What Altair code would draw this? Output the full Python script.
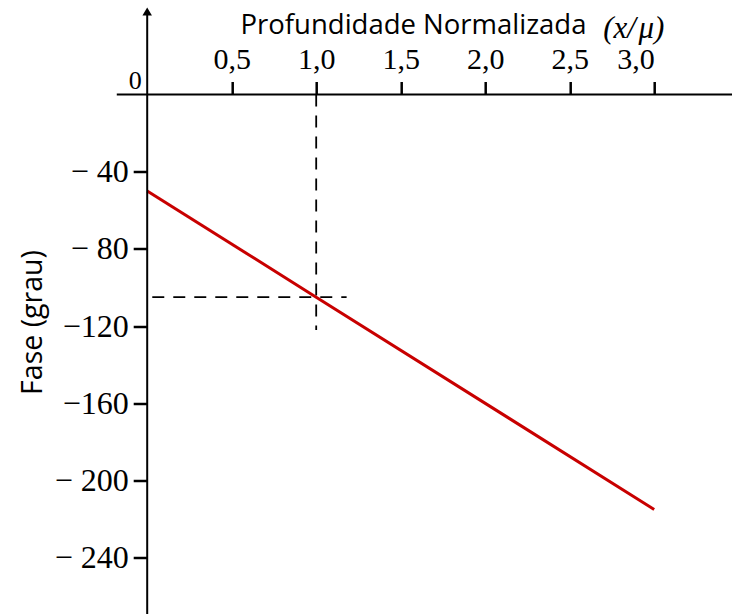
import altair as alt
import pandas as pd

# Phase of the thermal wave against normalized depth
depth = [0.0, 1.0, 3.0]
phase = [-50.0, -105.0, -215.0]

# Axis ticks
x_ticks = [0.5, 1.0, 1.5, 2.0, 2.5, 3.0]
y_ticks = [-40, -80, -120, -160, -200, -240]

# Reference point marked by the dashed guides
guide_depth = 1.0
guide_phase = -105.0
guide_vert_end = -122.0
guide_horiz_start = 0.03
guide_horiz_end = 1.18

# Extent of the drawn axis lines
xline_start, xline_end = -0.18, 3.5
yline_top, yline_bottom = 43.0, -275.0

SERIF = "Liberation Serif"
SANS = "Open Sans"

x_scale = alt.Scale(domain=[0, 3], nice=False, zero=False)
y_scale = alt.Scale(domain=[-240, 0], nice=False, zero=False)

x_axis = alt.Axis(
    orient="top", values=x_ticks, domain=False, grid=False,
    labelExpr="replace(format(datum.value, '.1f'), '.', ',')",
    labelFont=SERIF, labelFontSize=30, labelColor="black",
    labelBaseline="alphabetic", labelPadding=13,
    tickColor="black", tickWidth=2.5, tickSize=13,
    title="Profundidade Normalizada", titleFont=SANS, titleFontSize=27.5,
    titleFontWeight="normal", titleColor="black",
    titleAlign="left", titleBaseline="alphabetic",
    titleX=92.8, titleY=-61.2, titleAnchor="start",
)

y_axis = alt.Axis(
    orient="left", values=y_ticks, domain=False, grid=False,
    labelExpr="(datum.value == -120 || datum.value == -160 ? '\u2212' : '\u2212 ') + abs(datum.value)",
    labelFont=SERIF, labelFontSize=32, labelColor="black",
    labelPadding=5,
    tickColor="black", tickWidth=2.5, tickSize=14,
    title="Fase (grau)", titleFont=SANS, titleFontSize=28.5,
    titleFontWeight="normal", titleColor="black",
    titleAngle=270, titleAlign="center", titleBaseline="alphabetic",
    titleX=-106, titleY=227.5,
)

line_df = pd.DataFrame({"depth": depth, "phase": phase})

phase_line = alt.Chart(line_df).mark_line(color="#c80000", strokeWidth=3).encode(
    x=alt.X("depth:Q", scale=x_scale, axis=x_axis),
    y=alt.Y("phase:Q", scale=y_scale, axis=y_axis),
)

axis_lines_df = pd.DataFrame({
    "x": [xline_start, 0.0],
    "x2": [xline_end, 0.0],
    "y": [0.0, yline_top],
    "y2": [0.0, yline_bottom],
})
axis_lines = alt.Chart(axis_lines_df).mark_rule(color="black", strokeWidth=2).encode(
    x=alt.X("x:Q", scale=x_scale, axis=x_axis),
    x2="x2:Q",
    y=alt.Y("y:Q", scale=y_scale, axis=y_axis),
    y2="y2:Q",
)

arrow_df = pd.DataFrame({"x": [0.0], "y": [yline_top]})
arrow = alt.Chart(arrow_df).mark_point(
    shape="triangle-up", filled=True, color="black", size=90, opacity=1
).encode(
    x=alt.X("x:Q", scale=x_scale, axis=x_axis),
    y=alt.Y("y:Q", scale=y_scale, axis=y_axis),
)

guides_df = pd.DataFrame({
    "x": [guide_depth, guide_horiz_start],
    "x2": [guide_depth, guide_horiz_end],
    "y": [0.0, guide_phase],
    "y2": [guide_vert_end, guide_phase],
})
guides = alt.Chart(guides_df).mark_rule(
    color="black", strokeWidth=1.8, strokeDash=[12, 9]
).encode(
    x=alt.X("x:Q", scale=x_scale, axis=x_axis),
    x2="x2:Q",
    y=alt.Y("y:Q", scale=y_scale, axis=y_axis),
    y2="y2:Q",
)

origin_label = alt.Chart(pd.DataFrame({"t": ["0"]})).mark_text(
    font=SERIF, fontSize=26, color="black", align="center", baseline="alphabetic"
).encode(text="t:N", x=alt.value(-12), y=alt.value(-6))

unit_label = alt.Chart(pd.DataFrame({"t": ["(x/\u200a\u03bc)"]})).mark_text(
    font=SERIF, fontSize=31, fontStyle="italic", color="black",
    align="left", baseline="alphabetic"
).encode(text="t:N", x=alt.value(456), y=alt.value(-57))

chart = alt.layer(
    guides, phase_line, axis_lines, arrow, origin_label, unit_label
).properties(
    width=507,
    height=463.2,
    autosize=alt.AutoSizeParams(type="none"),
    padding={"left": 147.2, "top": 94.5, "right": 77.8, "bottom": 56.3},
    background="white",
).configure_view(stroke=None)

chart.save("out.html", embed_options={"renderer": "svg", "actions": False})
